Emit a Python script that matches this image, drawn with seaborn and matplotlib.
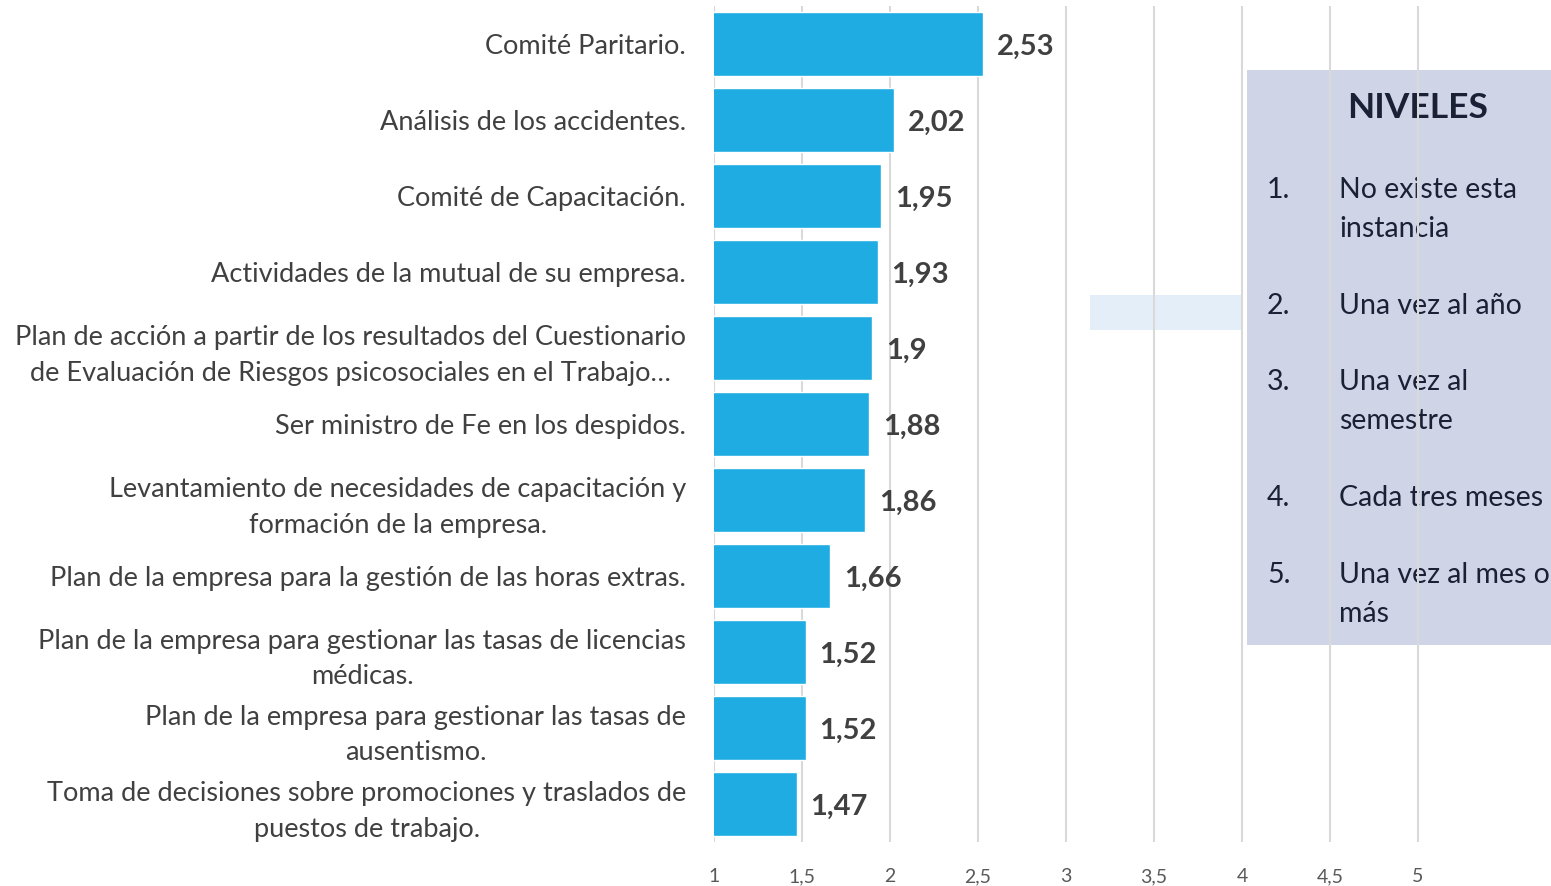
import matplotlib
matplotlib.use("Agg")
import matplotlib.pyplot as plt
from matplotlib.patches import Rectangle
import pandas as pd
import seaborn as sns

# ---- Data ----
categories = [
    "Comité Paritario.",
    "Análisis de los accidentes.",
    "Comité de Capacitación.",
    "Actividades de la mutual de su empresa.",
    "Plan de acción a partir de los resultados del Cuestionario\nde Evaluación de Riesgos psicosociales en el Trabajo…",
    "Ser ministro de Fe en los despidos.",
    "Levantamiento de necesidades de capacitación y\nformación de la empresa.",
    "Plan de la empresa para la gestión de las horas extras.",
    "Plan de la empresa para gestionar las tasas de licencias\nmédicas.",
    "Plan de la empresa para gestionar las tasas de\nausentismo.",
    "Toma de decisiones sobre promociones y traslados de\npuestos de trabajo.",
]
values = [2.53, 2.02, 1.95, 1.93, 1.9, 1.88, 1.86, 1.66, 1.52, 1.52, 1.47]
x_ticks = [1, 1.5, 2, 2.5, 3, 3.5, 4, 4.5, 5]
x_tick_labels = ["1", "1,5", "2", "2,5", "3", "3,5", "4", "4,5", "5"]
legend_title = "NIVELES"
legend_nums = ["1.", "2.", "3.", "4.", "5."]
legend_items = ["No existe esta\ninstancia", "Una vez al año", "Una vez al\nsemestre",
                "Cada tres meses", "Una vez al mes o\nmás"]

df = pd.DataFrame({"item": categories, "promedio": values})

W, H = 1551, 886
sns.set_style("white")
plt.rcParams["font.family"] = ["Lato", "DejaVu Sans"]

fig = plt.figure(figsize=(W / 100, H / 100), dpi=100)
ax = fig.add_axes([714 / W, 1 - 842 / H, 1 - 714 / W, (842 - 6) / H])

sns.barplot(data=df, x="promedio", y="item", orient="h", color="#1EACE2",
            saturation=1, width=0.83, ax=ax, zorder=2)

ax.set_xlim(1, 1 + (W - 714) / 176)
ax.set_xticks(x_ticks)
ax.set_xticklabels(x_tick_labels, fontsize=14, color="#595959")
ax.tick_params(axis="x", length=0, pad=19)
ax.tick_params(axis="y", length=0, pad=20, labelsize=19.5, labelcolor="#404040")
ax.set_xlabel("")
ax.set_ylabel("")
ax.grid(axis="x", color="#D9D9D9", linewidth=1.5, zorder=1)
ax.set_axisbelow(True)
sns.despine(ax=ax, left=True, bottom=True)

for lbl in ax.get_yticklabels():
    lbl.set_horizontalalignment("right")
    lbl.set_multialignment("center")
    lbl.set_linespacing(1.5)

labels = ax.bar_label(ax.containers[0], labels=[str(v).replace(".", ",") for v in values],
                      padding=10, fontsize=21, fontweight="bold", color="#404040")
for t in labels:
    t.xyann = (t.xyann[0], -2)

# ---- Levels box ----
def fx(px):
    return px / W

def fy(py):
    return 1 - py / H

ax.add_patch(Rectangle((fx(1090), fy(330)), fx(1242) - fx(1090), fy(295) - fy(330),
                       transform=fig.transFigure, facecolor="#E3EEF8", edgecolor="none",
                       clip_on=False, zorder=0.2))
ax.add_patch(Rectangle((fx(1247), fy(645)), fx(1600) - fx(1247), fy(70) - fy(645),
                       transform=fig.transFigure, facecolor="#CFD5E7", edgecolor="none",
                       clip_on=False, zorder=0.2))
ax.text(fx(1347), fy(108), legend_title, transform=fig.transFigure, fontsize=25.5,
        fontweight="bold", color="#1A2035", va="center", ha="left", clip_on=False, zorder=0.3)
item_y = [190, 306, 382, 498, 575]
for num, txt, py in zip(legend_nums, legend_items, item_y):
    ax.text(fx(1267), fy(py), num, transform=fig.transFigure, fontsize=20.5,
            color="#1A2035", va="center", ha="left", clip_on=False, zorder=0.3)
    for k, line in enumerate(txt.split("\n")):
        ax.text(fx(1339), fy(py + 39 * k), line, transform=fig.transFigure, fontsize=20.5,
                color="#1A2035", va="center", ha="left", clip_on=False, zorder=0.3)

fig.savefig("out.png", dpi=100)
